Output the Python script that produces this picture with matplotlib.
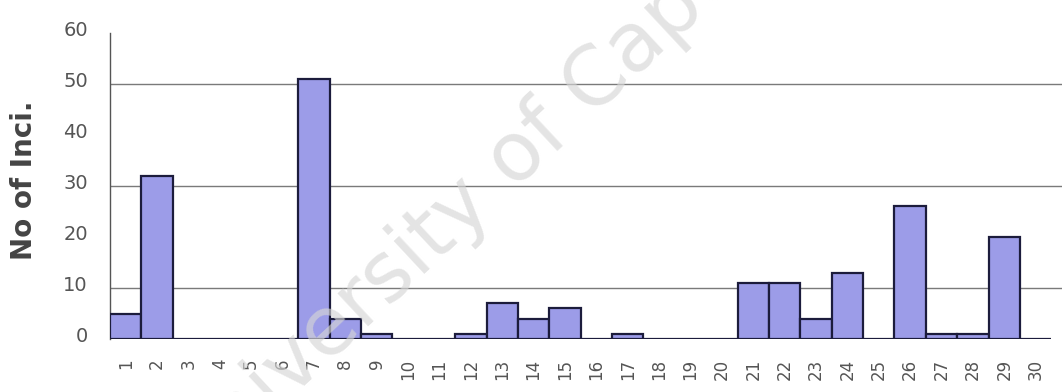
import matplotlib
matplotlib.use("Agg")
import matplotlib.pyplot as plt
from matplotlib.transforms import ScaledTranslation

categories = [str(i) for i in range(1, 31)]
incidents = [5, 32, 0, 0, 0, 0, 51, 4, 1, 0,
             0, 1, 7, 4, 6, 0, 1, 0, 0, 0,
             11, 11, 4, 13, 0, 26, 1, 1, 20, 0]
y_ticks = [0, 10, 20, 30, 40, 50, 60]
grid_levels = [10, 30, 50]

fig = plt.figure(figsize=(10.62, 3.92), dpi=100)
ax = fig.add_axes([0.1036, 0.1352, 0.8964, 0.7806])

x = list(range(len(categories)))
ax.bar(x, incidents, width=1.0, color="#9c9ce8", edgecolor="#1c1c3c",
       linewidth=1.6, zorder=3)

for level in grid_levels:
    ax.axhline(level, color="#7a7a7a", linewidth=1.0, zorder=1)

ax.set_xlim(-0.5, 29.84)
ax.set_ylim(0, 60)
ax.set_yticks(y_ticks)
ax.set_yticklabels([str(v) for v in y_ticks], fontsize=14, color="#555555")
ax.set_xticks(x)
ax.set_xticklabels(categories, rotation=90, fontsize=12, color="#555555")
ax.tick_params(axis="y", length=0, pad=16)
ax.tick_params(axis="x", length=0, pad=14)

# nudge the value labels slightly above their tick positions
lift = ScaledTranslation(0, 5 / 100, fig.dpi_scale_trans)
for lbl in ax.get_yticklabels():
    lbl.set_transform(lbl.get_transform() + lift)

for side in ("top", "right", "bottom"):
    ax.spines[side].set_visible(False)
ax.spines["left"].set_color("#555555")
ax.spines["left"].set_linewidth(1.0)

ax.set_ylabel("No of Inci.", fontsize=20, fontweight="bold", color="#444444")
ax.yaxis.set_label_coords(-0.0757, 0.52)

fig.text(0.507, 0.648, "University of Cape Town", fontsize=59,
         color="#d6d6d6", alpha=0.65, rotation=43,
         ha="center", va="center", zorder=10)

fig.savefig("out.png", dpi=100, facecolor="white")
